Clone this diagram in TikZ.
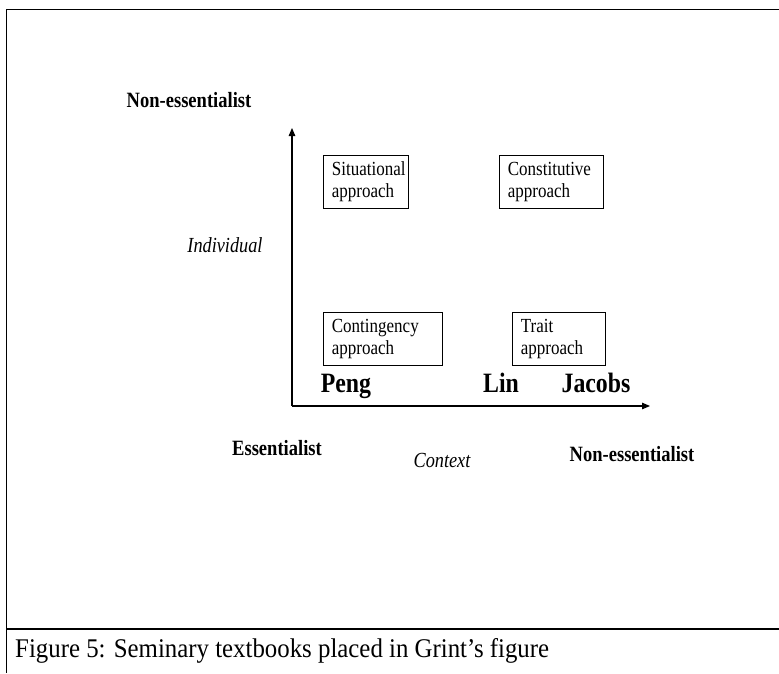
\documentclass[tikz,border=0pt]{standalone}
\usepackage{fontspec}
\setmainfont{Liberation Serif}[FakeStretch=0.85]
\newfontfamily\captionfont{Liberation Serif}[FakeStretch=0.92]
\usetikzlibrary{arrows.meta}
\begin{document}
\begin{tikzpicture}[x=1pt,y=-1pt,
  frameline/.style={line width=1.5pt},
  axisline/.style={line width=1.1pt,-{Triangle[length=8pt,width=6.5pt]}},
  appbox/.style={draw,line width=0.8pt,anchor=north west,inner xsep=8.5pt,inner ysep=0pt,
    align=left,font=\fontsize{20}{22}\selectfont},
  poleLabel/.style={font=\bfseries\fontsize{21.8}{24}\selectfont},
  dimLabel/.style={font=\itshape\fontsize{21.5}{24}\selectfont},
  bookLabel/.style={anchor=base,font=\bfseries\fontsize{28}{32}\selectfont}]
\useasboundingbox (0,0) rectangle (779,673);
% outer frame and caption separator
\draw[frameline] (6,9.5) -- (779,9.5);
\draw[frameline] (6.5,9) -- (6.5,673);
\draw[line width=2.4pt] (6,629) -- (779,629);
% axes
\coordinate (origin) at (292,406);
\coordinate (ytip) at (292,128);
\coordinate (xtip) at (650,406);
\draw[axisline] (origin) -- (ytip);
\draw[axisline] (origin) -- (xtip);
% approach boxes
\node[appbox,text width=68pt,minimum height=53pt] (sit) at (323,155) {Situational\\approach};
\node[appbox,text width=87pt,minimum height=53pt] (con) at (499,155) {Constitutive\\approach};
\node[appbox,text width=102pt,minimum height=53pt] (cont) at (323,312) {Contingency\\approach};
\node[appbox,text width=76pt,minimum height=53pt] (trait) at (512,312) {Trait\\approach};
% axis labels
\node[poleLabel] (ne1) at (189,100) {Non-essentialist};
\node[dimLabel] (ind) at (225,245) {Individual};
\node[poleLabel] (ess) at (277,448) {Essentialist};
\node[dimLabel] (ctx) at (442,460) {Context};
\node[poleLabel] (ne2) at (632,454) {Non-essentialist};
% textbooks
\node[bookLabel] (peng) at (346,392) {Peng};
\node[bookLabel] (lin) at (501,392) {Lin};
\node[bookLabel] (jacobs) at (596,392) {Jacobs};
% caption
\node[anchor=base west,inner sep=0pt,font=\captionfont\fontsize{27}{32}\selectfont] (cap) at (15,657)
  {Figure 5: Seminary textbooks placed in Grint’s figure};
\end{tikzpicture}
\end{document}
